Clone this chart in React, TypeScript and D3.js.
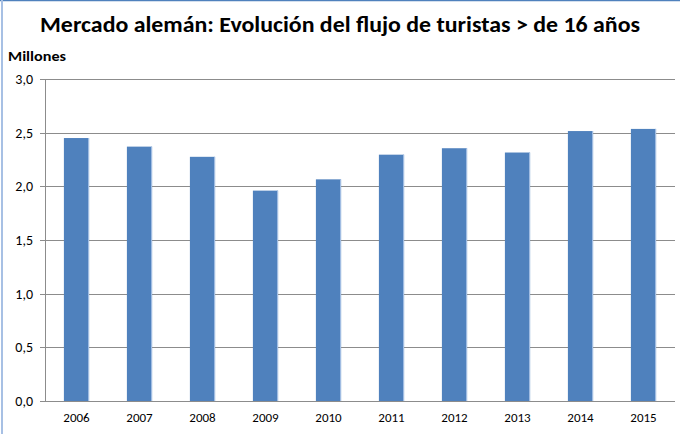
import React from "react";
import * as d3 from "d3";

const years = ["2006","2007","2008","2009","2010","2011","2012","2013","2014","2015"];
const values = [2.45, 2.37, 2.275, 1.96, 2.065, 2.295, 2.355, 2.315, 2.515, 2.535];
const yTicks = [0, 0.5, 1.0, 1.5, 2.0, 2.5, 3.0];
const title = "Mercado alemán: Evolución del flujo de turistas > de 16 años";
const unitLabel = "Millones";

const W = 680, H = 434;
const left = 45, right = 675, top = 79, bottom = 401;
const font = "Carlito, Calibri, 'Open Sans', 'Noto Sans', sans-serif";

export default function App() {
  const x = d3.scaleBand().domain(years).range([left, right]).paddingInner(0.6).paddingOuter(0.3);
  const y = d3.scaleLinear().domain([0, 3]).range([bottom, top]);
  const fmt = (v: number) => v.toFixed(1).replace(".", ",");
  return (
    <svg width={W} height={H} style={{ position: "absolute", left: 0, top: 0, background: "#fff" }}>
      <rect x={0} y={0} width={W} height={H} fill="#fff" />
      <line x1={0} x2={W} y1={0.5} y2={0.5} stroke="#4F81BD" strokeWidth={1.5} />
      <line x1={2} x2={2} y1={0} y2={H} stroke="#A7C0E4" strokeWidth={2} />
      <text x={340} y={32} textAnchor="middle" fontFamily={font} fontWeight="bold" fontSize={22}
        textLength={600} lengthAdjust="spacingAndGlyphs" fill="#000">{title}</text>
      <text x={8} y={61} fontFamily={font} fontWeight="bold" fontSize={13}
        textLength={58} lengthAdjust="spacingAndGlyphs" fill="#000">{unitLabel}</text>
      {yTicks.map((t) => (
        <g key={t}>
          <line x1={left - 5} x2={right} y1={Math.round(y(t)) + 0.5} y2={Math.round(y(t)) + 0.5}
            stroke="#8C8C8C" strokeWidth={1} />
          <text x={33} y={y(t) + 5} textAnchor="end" fontFamily={font} fontSize={14} fill="#000">{fmt(t)}</text>
        </g>
      ))}
      <line x1={left + 0.5} x2={left + 0.5} y1={top} y2={bottom + 0.5} stroke="#8C8C8C" strokeWidth={1} />
      {years.map((yr, i) => (
        <g key={yr}>
          <rect x={x(yr)!} y={y(values[i])} width={x.bandwidth()} height={bottom - y(values[i])} fill="#4F81BD" />
          <line x1={x(yr)! + x.bandwidth() - 0.5} x2={x(yr)! + x.bandwidth() - 0.5} y1={y(values[i])} y2={bottom}
            stroke="#A9C3E6" strokeWidth={1} />
          <text x={x(yr)! + x.bandwidth() / 2} y={422} textAnchor="middle" fontFamily={font} fontSize={13} fill="#000">{yr}</text>
        </g>
      ))}
    </svg>
  );
}
